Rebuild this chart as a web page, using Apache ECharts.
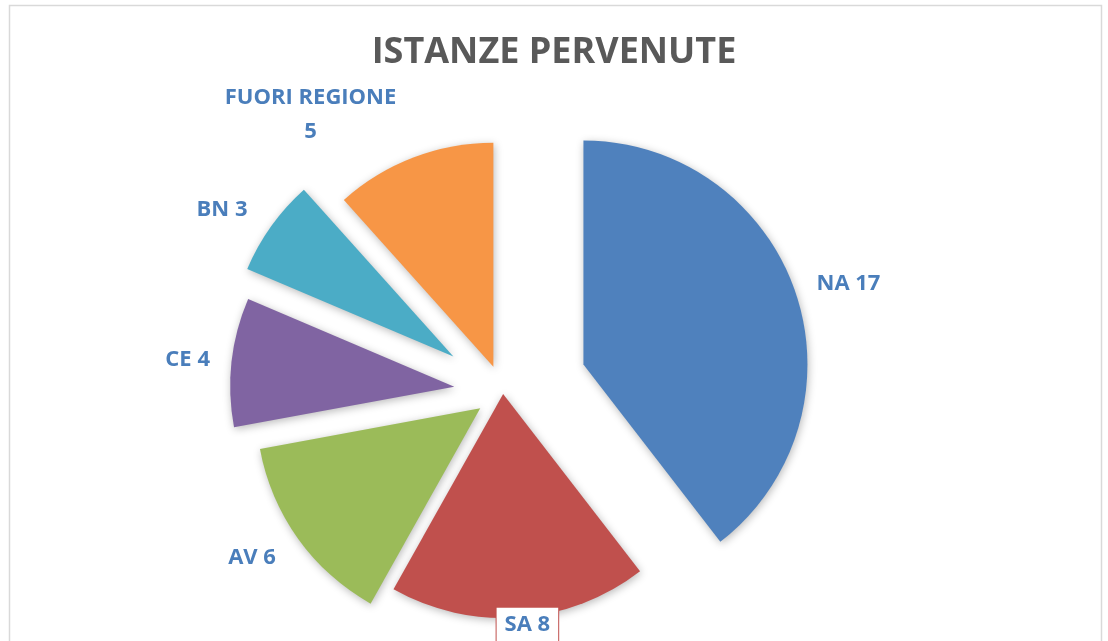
<!DOCTYPE html>
<html>
<head>
<meta charset="utf-8">
<script src="https://cdn.jsdelivr.net/npm/echarts@6/dist/echarts.min.js"></script>
<style>
  html, body { margin: 0; padding: 0; background: #fff; }
  #chart { width: 1108px; height: 641px; }
</style>
</head>
<body>
<div id="chart"></div>
<script>
// ---- data ----
const categories = ['NA', 'SA', 'AV', 'CE', 'BN', 'FUORI REGIONE'];
const values = [17, 8, 6, 4, 3, 5];
const titleText = 'ISTANZE PERVENUTE';

// ---- style / layout ----
const colors = ['#4F81BD', '#C0504D', '#9BBB59', '#8064A2', '#4BACC6', '#F79646'];
const explode = [85, 2, 28, 49, 61, 27];          // per-slice explosion (px)
const labelDist = [277, 232, 273, 268, 274, 311];  // label distance from slice centre
const labelAng = [16.9, -84, -146.7, 174.2, 147.6, 126]; // label direction (deg)
const CX = 503, CY = 392, R = 224;
const labelColor = '#4A7EBB';
const font = '"Open Sans", "Noto Sans", sans-serif';

const total = values.reduce((a, b) => a + b, 0);
let cum = 0;
const centers = values.map((v, i) => {
  const mid = (90 - (cum + v / 2) / total * 360) * Math.PI / 180;
  cum += v;
  return [CX + explode[i] * Math.cos(mid), CY - explode[i] * Math.sin(mid)];
});

const series = values.map((_, i) => ({
  type: 'pie',
  center: centers[i],
  radius: [0, R],
  startAngle: 90,
  clockwise: true,
  silent: true,
  animation: false,
  avoidLabelOverlap: false,
  labelLine: { show: false },
  emphasis: { disabled: true },
  data: categories.map((name, j) => ({
    name: name,
    value: values[j],
    itemStyle: j === i ? {
      color: colors[j], borderWidth: 0,
      shadowBlur: 8, shadowColor: 'rgba(0,0,0,0.28)', shadowOffsetX: 1, shadowOffsetY: 2
    } : { color: 'rgba(0,0,0,0)', borderWidth: 0 },
    label: j === i ? {
      show: true,
      position: 'outside',
      formatter: p => p.name.length > 5 ? p.name + '\n' + p.value : p.name + ' ' + p.value,
      color: labelColor,
      fontFamily: font,
      fontWeight: 'bold',
      fontSize: 22,
      lineHeight: 34,
      align: 'center',
      verticalAlign: 'middle',
      backgroundColor: i === 1 ? '#ffffff' : 'transparent',
      borderColor: i === 1 ? colors[1] : 'transparent',
      borderWidth: i === 1 ? 1 : 0,
      padding: i === 1 ? [0, 8] : 0
    } : { show: false }
  })),
  labelLayout: function (p) {
    const k = p.seriesIndex;
    const a = labelAng[k] * Math.PI / 180;
    return {
      x: centers[k][0] + labelDist[k] * Math.cos(a),
      y: centers[k][1] - labelDist[k] * Math.sin(a),
      align: 'center',
      verticalAlign: 'middle'
    };
  }
}));

const chart = echarts.init(document.getElementById('chart'), null, { renderer: 'canvas' });
chart.setOption({
  animation: false,
  backgroundColor: '#ffffff',
  title: {
    text: titleText,
    left: 'center',
    top: 30,
    textStyle: { fontFamily: font, fontWeight: 'bold', fontSize: 36, color: '#595959' }
  },
  graphic: [{
    type: 'rect',
    shape: { x: 9.5, y: 5.5, width: 1092, height: 700 },
    style: { fill: 'none', stroke: '#D9D9D9', lineWidth: 1.5 },
    silent: true,
    z: -10
  }],
  series: series
});
</script>
</body>
</html>
